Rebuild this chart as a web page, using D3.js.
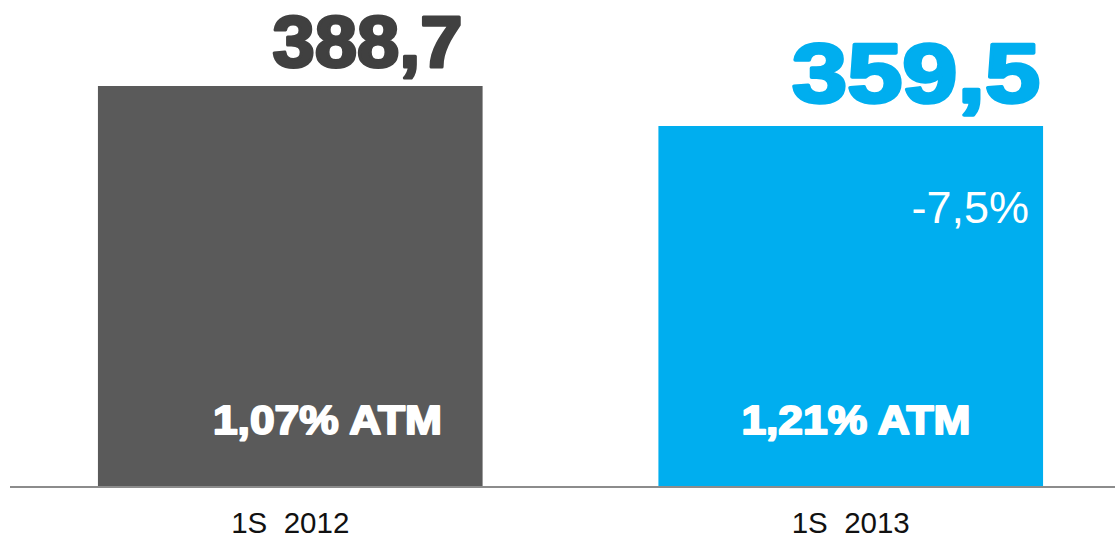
<!DOCTYPE html>
<html>
<head>
<meta charset="utf-8">
<script src="https://cdn.jsdelivr.net/npm/d3@7"></script>
<style>
  html, body { margin: 0; padding: 0; background: #fff; }
  svg { display: block; font-family: "Liberation Sans", Arial, sans-serif; }
</style>
</head>
<body>
<svg id="chart" width="1115" height="539"></svg>
<script>
// dades
const periods = ["1S  2012", "1S  2013"];
const values = [388.7, 359.5];
const valueLabels = ["388,7", "359,5"];
const ratioLabels = ["1,07% ATM", "1,21% ATM"];
const changeLabel = "-7,5%";

const svg = d3.select("#chart");
const baseY = 486;

const colors = ["#5a5a5a", "#00aeef"];
const valueColors = ["#404040", "#00aeef"];

// Escales
const x = d3.scaleBand()
  .domain(periods)
  .range([10, 1131])
  .paddingInner(0.3137)
  .paddingOuter(0.1569);

const y = d3.scaleLinear()
  .domain([96.7, 388.7])
  .range([baseY, 86]);

const data = periods.map((p, i) => ({
  period: p, value: values[i], label: valueLabels[i], ratio: ratioLabels[i], i
}));

// Barres
svg.selectAll(".bar")
  .data(data)
  .enter()
  .append("rect")
  .attr("class", "bar")
  .attr("x", d => x(d.period))
  .attr("y", d => y(d.value))
  .attr("width", x.bandwidth())
  .attr("height", d => baseY - y(d.value))
  .style("fill", d => colors[d.i]);

// eix X
svg.append("line")
  .attr("x1", 10).attr("x2", 1115)
  .attr("y1", baseY + 1).attr("y2", baseY + 1)
  .style("stroke", "#8c8c8c")
  .style("stroke-width", 2);

svg.selectAll(".xlabel")
  .data(data)
  .enter()
  .append("text")
  .attr("x", d => x(d.period) + x.bandwidth() / 2)
  .attr("y", 532.5)
  .attr("text-anchor", "middle")
  .attr("xml:space", "preserve")
  .style("font-size", "29.5px")
  .style("fill", "#111")
  .text(d => d.period);

// valors a sobre
const valStyle = [
  { dx: -20, dy: -19, size: 72, len: 190, stroke: 3 },
  { dx: -3, dy: -24, size: 84, len: 248, stroke: 3.5 }
];
svg.selectAll(".val")
  .data(data)
  .enter()
  .append("text")
  .attr("x", d => x(d.period) + x.bandwidth() + valStyle[d.i].dx - valStyle[d.i].len)
  .attr("y", d => y(d.value) + valStyle[d.i].dy)
  .attr("textLength", d => valStyle[d.i].len)
  .attr("lengthAdjust", "spacingAndGlyphs")
  .style("font-size", d => valStyle[d.i].size + "px")
  .style("font-weight", "bold")
  .style("fill", d => valueColors[d.i])
  .style("stroke", d => valueColors[d.i])
  .style("stroke-width", d => valStyle[d.i].stroke)
  .style("stroke-linejoin", "round")
  .text(d => d.label);

// ATM
const ratioLeft = [115, 83];
svg.selectAll(".ratio")
  .data(data)
  .enter()
  .append("text")
  .attr("x", d => x(d.period) + ratioLeft[d.i])
  .attr("y", 434)
  .attr("textLength", 229)
  .attr("lengthAdjust", "spacingAndGlyphs")
  .style("font-size", "41px")
  .style("font-weight", "bold")
  .style("fill", "#fff")
  .style("stroke", "#fff")
  .style("stroke-width", 2)
  .style("stroke-linejoin", "round")
  .text(d => d.ratio);

// variació
svg.append("text")
  .attr("x", x(periods[1]) + x.bandwidth() - 14)
  .attr("y", 223)
  .attr("text-anchor", "end")
  .style("font-size", "45px")
  .style("fill", "#fff")
  .text(changeLabel);
</script>
</body>
</html>
